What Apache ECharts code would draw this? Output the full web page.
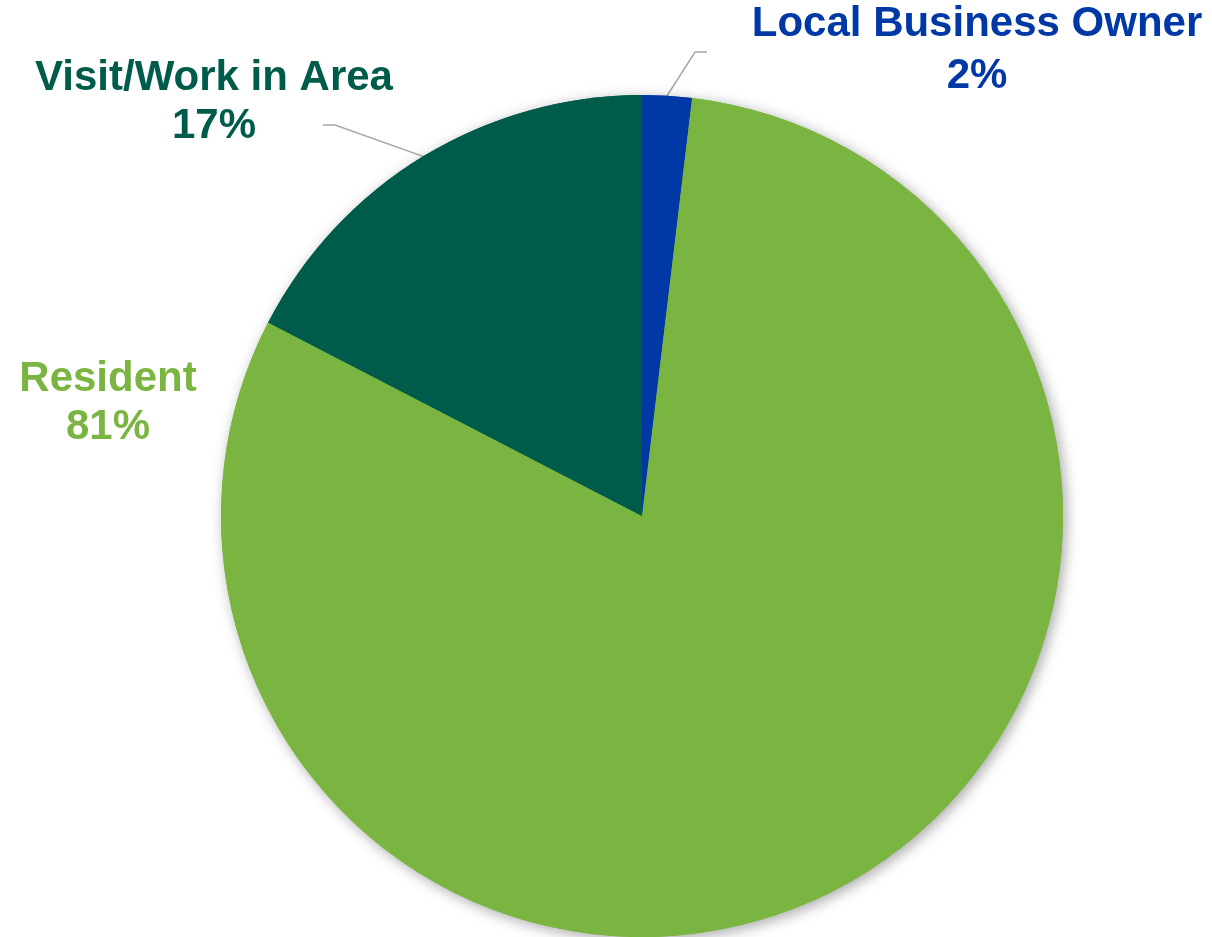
<!DOCTYPE html>
<html>
<head>
<meta charset="utf-8">
<script src="https://cdn.jsdelivr.net/npm/echarts@6/dist/echarts.min.js"></script>
<style>
html,body{margin:0;padding:0;background:#fff;}
#chart{width:1212px;height:937px;}
</style>
</head>
<body>
<div id="chart"></div>
<script>
const categories = ['Local Business Owner', 'Resident', 'Visit/Work in Area'];
const values = [1.9, 80.7, 17.4];
const colors = ['#0039A6', '#7BB541', '#005C4A'];

const chart = echarts.init(document.getElementById('chart'));
const FONT = '"Liberation Sans", Arial, sans-serif';

const labelCfg = [
  { x: 977, y: 50, lh: 52, line: [[695, 52], [707, 52]] },
  { x: 108, y: 403, lh: 48, line: null },
  { x: 214, y: 102, lh: 48, line: [[335, 125], [323, 125]] }
];

const data = categories.map((name, i) => ({
  name: name,
  value: values[i],
  itemStyle: { color: colors[i] },
  label: { color: colors[i], lineHeight: labelCfg[i].lh },
  labelLine: { show: !!labelCfg[i].line }
}));

chart.setOption({
  animation: false,
  series: [
    {
      type: 'pie',
      silent: true,
      center: [642, 516],
      radius: 421,
      startAngle: 90,
      clockwise: true,
      label: { show: false },
      labelLine: { show: false },
      itemStyle: {
        borderWidth: 0,
        shadowBlur: 14,
        shadowOffsetX: 3,
        shadowOffsetY: 3,
        shadowColor: 'rgba(0,0,0,0.35)'
      },
      data: categories.map((name, i) => ({ name: name, value: values[i], itemStyle: { color: colors[i] } }))
    },
    {
      type: 'pie',
      center: [642, 516],
      radius: 421,
      startAngle: 90,
      clockwise: true,
      percentPrecision: 0,
      itemStyle: { borderWidth: 0 },
      label: {
        show: true,
        position: 'outside',
        formatter: '{b}\n{d}%',
        fontFamily: FONT,
        fontWeight: 'bold',
        fontSize: 42,
        align: 'center'
      },
      labelLine: {
        show: true,
        length: 20,
        length2: 10,
        lineStyle: { color: '#A6A6A6', width: 1.5 }
      },
      labelLayout: function (params) {
        const c = labelCfg[params.dataIndex];
        const out = { x: c.x, y: c.y, align: 'center', verticalAlign: 'middle' };
        if (c.line && params.labelLinePoints) {
          out.labelLinePoints = [params.labelLinePoints[0], c.line[0], c.line[1]];
        }
        return out;
      },
      data: data
    }
  ]
});
</script>
</body>
</html>
